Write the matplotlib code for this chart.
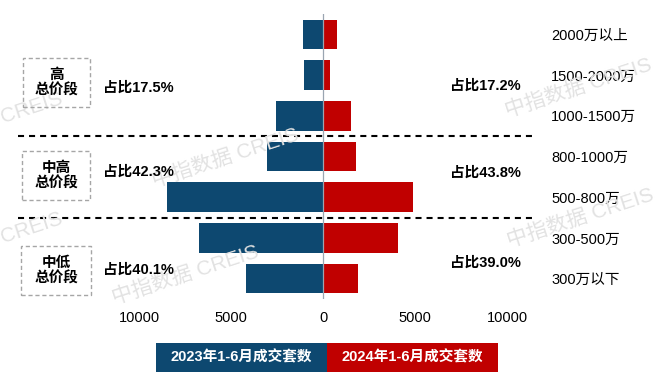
import matplotlib
matplotlib.use("Agg")
import matplotlib.pyplot as plt
from matplotlib.patches import Rectangle

plt.rcParams['font.family'] = ['Liberation Sans', 'Noto Sans CJK SC']

# ===================== DATA =====================
categories = ['2000万以上', '1500-2000万', '1000-1500万', '800-1000万',
              '500-800万', '300-500万', '300万以下']
sales_2023 = [1100, 1050, 2550, 3050, 8500, 6750, 4200]
sales_2024 = [770, 380, 1500, 1800, 4900, 4100, 1900]
tick_values = [-10000, -5000, 0, 5000, 10000]
tick_labels = ['10000', '5000', '0', '5000', '10000']

group_names = ['高\n总价段', '中高\n总价段', '中低\n总价段']
share_2023 = ['占比17.5%', '占比42.3%', '占比40.1%']
share_2024 = ['占比17.2%', '占比43.8%', '占比39.0%']
legend_labels = ['2023年1-6月成交套数', '2024年1-6月成交套数']

BLUE = '#0D4870'
RED = '#C00000'

W, H = 660, 389


def fx(x):
    return x / W


def fy(y):
    return 1 - y / H


fig = plt.figure(figsize=(6.6, 3.89), dpi=100)
ax = fig.add_axes([fx(18), fy(299), fx(533) - fx(18), fy(14) - fy(299)])

# ===================== WATERMARKS =====================
wm_color = '#e2e2e2'
for (x, y, s) in [(578, 88, '中指数据 CREIS'), (225, 158, '中指数据 CREIS'),
                  (185, 275, '中指数据 CREIS'), (580, 218, '中指数据 CREIS'),
                  (32, 108, 'CREIS'), (32, 228, 'CREIS')]:
    fig.text(fx(x), fy(y), s, color=wm_color, fontsize=15, rotation=18,
             ha='center', va='center', zorder=0)

ypos = list(range(len(categories)))
ax.barh(ypos, [-v for v in sales_2023], height=0.725, color=BLUE, zorder=2)
ax.barh(ypos, sales_2024, height=0.725, color=RED, zorder=2)

ax.set_xlim(-(323 - 18) / 18.4 * 1000, (533 - 323) / 18.4 * 1000)
ax.set_ylim(6.5, -0.5)
ax.axvline(0, color='#9aa5b1', lw=0.9, zorder=3)

for yy in [2.5, 4.5]:
    ax.axhline(yy, color='black', lw=1.5, dashes=(2.9, 2.4), zorder=3)

ax.set_xticks(tick_values)
ax.set_xticklabels(tick_labels, fontsize=10.5)
ax.yaxis.tick_right()
ax.set_yticks(ypos)
ax.set_yticklabels(categories, fontsize=10.5, ha='left')
ax.tick_params(axis='both', length=0)
ax.tick_params(axis='x', pad=9)
ax.tick_params(axis='y', pad=13)
for sp in ax.spines.values():
    sp.set_visible(False)
ax.patch.set_alpha(0)

# ===================== GROUP BOXES & SHARES =====================
boxes = [(23, 58, 90, 107), (22, 151, 90, 200), (21, 246, 91, 295)]
left_share_y = [88, 172, 270]
right_share_y = [86, 173, 263]
for i, (x0, y0, x1, y1) in enumerate(boxes):
    fig.patches.append(Rectangle((fx(x0), fy(y1)), fx(x1) - fx(x0), fy(y0) - fy(y1),
                                 transform=fig.transFigure, fill=False,
                                 edgecolor='#a6a6a6', lw=1.0, linestyle=(0, (3, 2))))
    fig.text(fx((x0 + x1) / 2), fy((y0 + y1) / 2), group_names[i], ha='center',
             va='center', fontsize=10.5, fontweight='bold', linespacing=1.15)
    fig.text(fx(103), fy(left_share_y[i]), share_2023[i], ha='left', va='center',
             fontsize=10.5, fontweight='bold')
    fig.text(fx(450), fy(right_share_y[i]), share_2024[i], ha='left', va='center',
             fontsize=10.5, fontweight='bold')

# ===================== LEGEND =====================
for (x0, x1, c, lab) in [(156, 327, BLUE, legend_labels[0]), (327, 498, RED, legend_labels[1])]:
    fig.patches.append(Rectangle((fx(x0), fy(372)), fx(x1) - fx(x0), fy(343) - fy(372),
                                 transform=fig.transFigure, color=c, lw=0))
    fig.text(fx((x0 + x1) / 2), fy(357.5), lab, ha='center', va='center',
             color='white', fontsize=10.5, fontweight='bold')

fig.savefig('out.png', dpi=100)
